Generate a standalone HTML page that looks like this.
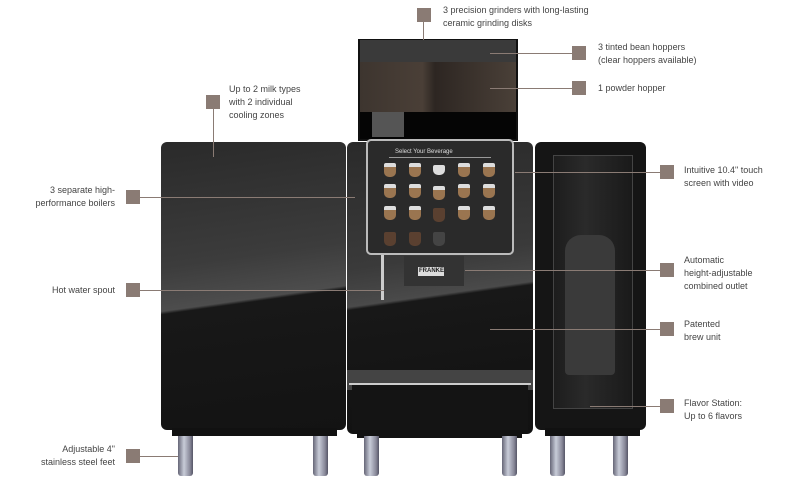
<!DOCTYPE html><html><head><style>
body{margin:0;width:796px;height:496px;background:#fff;position:relative;overflow:hidden;font-family:"Liberation Sans",sans-serif;font-size:9px;color:#444;line-height:13px}
.a{position:absolute}
.sq{position:absolute;width:14px;height:14px;background:#8a7b74}
.t{position:absolute;white-space:nowrap}
.r{text-align:right}
.ln{position:absolute;background:#8a7b74}
.foot{position:absolute;width:15px;height:40px;top:436px;background:linear-gradient(90deg,#667,#c8ccd8 40%,#889 80%,#556);border-radius:0 0 3px 3px}
.c{position:absolute;width:12px;height:14px;border-radius:2px 2px 5px 5px;background:linear-gradient(#ddd 0 30%,#9a7550 30%)}
</style></head><body>
<!-- hopper -->
<div class="a" style="left:358px;top:39px;width:160px;height:102px;background:#111"></div>
<div class="a" style="left:360px;top:40px;width:156px;height:22px;background:#3a3a3a"></div>
<div class="a" style="left:360px;top:62px;width:156px;height:50px;background:linear-gradient(90deg,#3d352f,#4a3f37 40%,#2d2622 48%,#4a4038)"></div>
<div class="a" style="left:360px;top:112px;width:156px;height:27px;background:#050505"></div>
<div class="a" style="left:372px;top:112px;width:32px;height:25px;background:#555"></div>
<!-- left cabinet -->
<div class="a" style="left:161px;top:142px;width:185px;height:288px;border-radius:6px;background:linear-gradient(172deg,#2a2a2a 0%,#3c3c3c 40%,#4d4d4d 54%,#181818 55%,#131313 100%)"></div>
<!-- middle -->
<div class="a" style="left:347px;top:142px;width:186px;height:292px;border-radius:6px;background:linear-gradient(172deg,#2a2a2a 0%,#3a3a3a 40%,#4a4a4a 52%,#181818 53%,#111 100%)"></div>
<div class="a" style="left:366px;top:139px;width:148px;height:116px;border-radius:5px;background:#2a2a2a;border:2px solid #bbb;box-sizing:border-box"></div>
<div class="t" style="left:395px;top:146px;color:#ddd;font-size:6px">Select Your Beverage</div>
<div class="a" style="left:389px;top:157px;width:102px;height:1px;background:#999"></div>
<div class="c" style="left:384px;top:163px"></div><div class="c" style="left:409px;top:163px"></div><div class="c" style="left:433px;top:165px;background:#ddd;height:10px"></div><div class="c" style="left:458px;top:163px"></div><div class="c" style="left:483px;top:163px"></div>
<div class="c" style="left:384px;top:184px"></div><div class="c" style="left:409px;top:184px"></div><div class="c" style="left:433px;top:186px"></div><div class="c" style="left:458px;top:184px"></div><div class="c" style="left:483px;top:184px"></div>
<div class="c" style="left:384px;top:206px"></div><div class="c" style="left:409px;top:206px"></div><div class="c" style="left:433px;top:208px;background:#5a4030"></div><div class="c" style="left:458px;top:206px"></div><div class="c" style="left:483px;top:206px"></div>
<div class="c" style="left:384px;top:232px;background:#5a4030"></div><div class="c" style="left:409px;top:232px;background:#5a4030"></div><div class="c" style="left:433px;top:232px;background:#444"></div>
<div class="a" style="left:404px;top:256px;width:60px;height:30px;background:#333"></div>
<div class="a" style="left:418px;top:267px;width:26px;height:9px;background:#ddd"></div>
<div class="t" style="left:419px;top:265px;font-size:6px;color:#222;font-weight:bold">FRANKE</div>
<div class="a" style="left:381px;top:255px;width:3px;height:45px;background:#ccc"></div>
<div class="a" style="left:347px;top:370px;width:186px;height:20px;background:#444"></div>
<div class="a" style="left:349px;top:383px;width:182px;height:2px;background:#ccc"></div>
<div class="a" style="left:352px;top:385px;width:176px;height:45px;background:#141414"></div>
<!-- right -->
<div class="a" style="left:535px;top:142px;width:111px;height:288px;border-radius:6px;background:#151515"></div>
<div class="a" style="left:553px;top:155px;width:78px;height:252px;border:1px solid #444;background:linear-gradient(90deg,#1d1d1d,#2a2a2a 40%,#1a1a1a)"></div>
<div class="a" style="left:565px;top:235px;width:50px;height:140px;border-radius:16px 16px 4px 4px;background:#3a3a3a"></div>
<!-- bases -->
<div class="a" style="left:172px;top:428px;width:165px;height:8px;background:#111"></div>
<div class="a" style="left:357px;top:430px;width:165px;height:8px;background:#111"></div>
<div class="a" style="left:545px;top:428px;width:95px;height:8px;background:#111"></div>
<div class="foot" style="left:178px"></div><div class="foot" style="left:313px"></div>
<div class="foot" style="left:364px"></div><div class="foot" style="left:502px"></div>
<div class="foot" style="left:550px"></div><div class="foot" style="left:613px"></div>
<!-- annotations -->
<div class="sq" style="left:417px;top:8px"></div><div class="ln" style="left:423px;top:22px;width:1px;height:18px"></div>
<div class="t" style="left:443px;top:4px">3 precision grinders with long-lasting<br>ceramic grinding disks</div>
<div class="sq" style="left:572px;top:46px"></div><div class="ln" style="left:490px;top:53px;width:82px;height:1px"></div>
<div class="t" style="left:598px;top:41px">3 tinted bean hoppers<br>(clear hoppers available)</div>
<div class="sq" style="left:572px;top:81px"></div><div class="ln" style="left:490px;top:88px;width:82px;height:1px"></div>
<div class="t" style="left:598px;top:82px">1 powder hopper</div>
<div class="sq" style="left:206px;top:95px"></div><div class="ln" style="left:213px;top:109px;width:1px;height:48px"></div>
<div class="t" style="left:229px;top:83px">Up to 2 milk types<br>with 2 individual<br>cooling zones</div>
<div class="sq" style="left:126px;top:190px"></div><div class="ln" style="left:140px;top:197px;width:215px;height:1px"></div>
<div class="t r" style="right:681px;top:184px">3 separate high-<br>performance boilers</div>
<div class="sq" style="left:126px;top:283px"></div><div class="ln" style="left:140px;top:290px;width:244px;height:1px"></div>
<div class="t r" style="right:681px;top:284px">Hot water spout</div>
<div class="sq" style="left:126px;top:449px"></div><div class="ln" style="left:140px;top:456px;width:38px;height:1px"></div>
<div class="t r" style="right:681px;top:443px">Adjustable 4"<br>stainless steel feet</div>
<div class="sq" style="left:660px;top:165px"></div><div class="ln" style="left:515px;top:172px;width:145px;height:1px"></div>
<div class="t" style="left:684px;top:164px">Intuitive 10.4" touch<br>screen with video</div>
<div class="sq" style="left:660px;top:263px"></div><div class="ln" style="left:465px;top:270px;width:195px;height:1px"></div>
<div class="t" style="left:684px;top:254px">Automatic<br>height-adjustable<br>combined outlet</div>
<div class="sq" style="left:660px;top:322px"></div><div class="ln" style="left:490px;top:329px;width:170px;height:1px"></div>
<div class="t" style="left:684px;top:318px">Patented<br>brew unit</div>
<div class="sq" style="left:660px;top:399px"></div><div class="ln" style="left:590px;top:406px;width:70px;height:1px"></div>
<div class="t" style="left:684px;top:397px">Flavor Station:<br>Up to 6 flavors</div>
</body></html>
